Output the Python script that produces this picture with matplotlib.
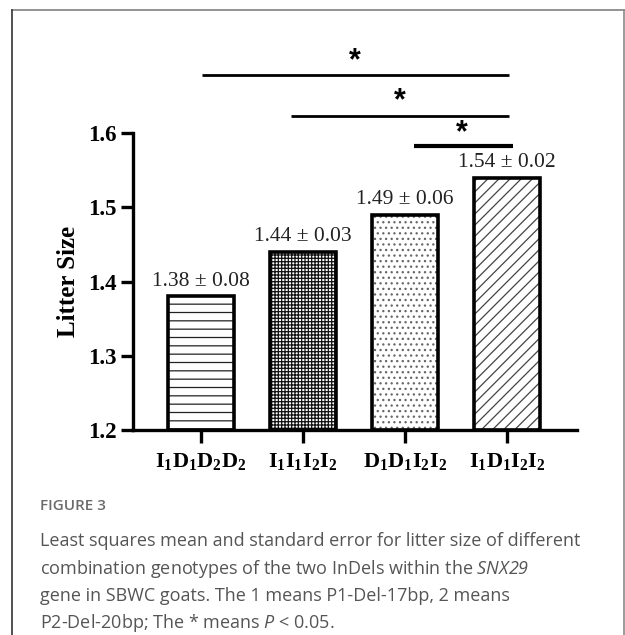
import numpy as np
import matplotlib
matplotlib.use("Agg")
import matplotlib.pyplot as plt
from matplotlib.lines import Line2D

plt.rcParams['mathtext.fontset'] = 'custom'
plt.rcParams['mathtext.bf'] = 'Liberation Serif:bold'
# digits inside math go through "rm"; only the caption's italic bits use it
plt.rcParams['mathtext.rm'] = 'Open Sans:italic'
plt.rcParams['mathtext.it'] = 'Open Sans:italic'
plt.rcParams['hatch.linewidth'] = 0.9

genotypes = [r'$\mathbf{I_1D_1D_2D_2}$', r'$\mathbf{I_1I_1I_2I_2}$',
             r'$\mathbf{D_1D_1I_2I_2}$', r'$\mathbf{I_1D_1I_2I_2}$']
means = [1.38, 1.44, 1.49, 1.54]
errors = [0.08, 0.03, 0.06, 0.02]
hatches = ['--', '+++++', '...', '///']
hatch_colors = ['#222222', '#111111', '#666666', '#444444']

# significance brackets: (x start, x end, line height, star x, star y)
sig_lines = [(0.01, 3.02, 1.678, 1.51, 1.697),
             (0.88, 3.02, 1.623, 1.95, 1.643),
             (2.09, 3.06, 1.583, 2.56, 1.599)]
sig_widths = [2.0, 2.0, 3.0]

W, H = 625, 635
fig = plt.figure(figsize=(W / 100, H / 100), dpi=100)

ax = fig.add_axes([133 / W, 1 - 430 / H, 444 / W, 390 / H])
x = np.arange(len(means))
heights = [m - 1.2 for m in means]
fill = ax.bar(x, heights, bottom=1.2, width=0.64, color='white', linewidth=0)
for b, h, hc in zip(fill, hatches, hatch_colors):
    b.set_hatch(h)
    b.set_edgecolor(hc)
ax.bar(x, heights, bottom=1.2, width=0.64, facecolor='none', edgecolor='black', linewidth=2.6)

for xi, m, e in zip(x, means, errors):
    ax.annotate(f'{m:.2f} ± {e:.2f}', (xi, m), xytext=(0, 4), textcoords='offset points',
                ha='center', va='bottom', fontsize=15.5, family='Liberation Serif', color='#222')

for (x0, x1, yl, sx, sy), lw in zip(sig_lines, sig_widths):
    ax.plot([x0, x1], [yl, yl], color='black', lw=lw, clip_on=False, solid_capstyle='butt')
    ax.text(sx, sy, '*', ha='center', va='center', fontsize=22, fontweight='bold',
            family='Liberation Sans')

ax.set_xlim(-0.667, 3.686)
ax.set_ylim(1.2, 1.2 + 390 / 742.5)
ax.spines['top'].set_visible(False)
ax.spines['right'].set_visible(False)
ax.spines['left'].set_bounds(1.2, 1.6)
ax.spines['left'].set_linewidth(2.4)
ax.spines['bottom'].set_linewidth(2.4)
ax.set_yticks([1.2, 1.3, 1.4, 1.5, 1.6])
ax.set_yticklabels(['1.2', '1.3', '1.4', '1.5', '1.6'], fontsize=16.5, fontweight='bold',
                   family='Liberation Serif')
ax.set_xticks(x)
ax.set_xticklabels(genotypes, fontsize=16)
ax.tick_params(axis='both', direction='out', length=9, width=2.4, pad=3)
ax.tick_params(axis='x', pad=6)
ax.set_ylabel('Litter Size', fontsize=18, fontweight='bold', family='Liberation Serif')
ax.yaxis.set_label_coords(-0.119, (1.4 - 1.2) / (390 / 742.5))

# frame around the figure panel
fig.add_artist(Line2D([12 / W, 624 / W], [1 - 10 / H, 1 - 10 / H], color='#8a8a8a', lw=1.3))
fig.add_artist(Line2D([12 / W, 12 / W], [0, 1 - 10 / H], color='#333333', lw=1.2))
fig.add_artist(Line2D([623.5 / W, 623.5 / W], [0, 1 - 10 / H], color='#8a8a8a', lw=1.2))

fig.text(40 / W, 1 - 506 / H, 'FIGURE 3', fontsize=11, color='#6b6b6b', family='Open Sans',
         fontweight='semibold', va='center')
caption = ['Least squares mean and standard error for litter size of different',
           r'combination genotypes of the two InDels within the $\mathit{SNX29}$',
           'gene in SBWC goats. The 1 means P1-Del-17bp, 2 means',
           'P2-Del-20bp; The * means $P$ < 0.05.']
for i, line in enumerate(caption):
    fig.text(40 / W, 1 - (541 + 27.5 * i) / H, line, fontsize=13, color='#555555',
             family='Open Sans', va='center')

fig.savefig('out.png', dpi=100)
